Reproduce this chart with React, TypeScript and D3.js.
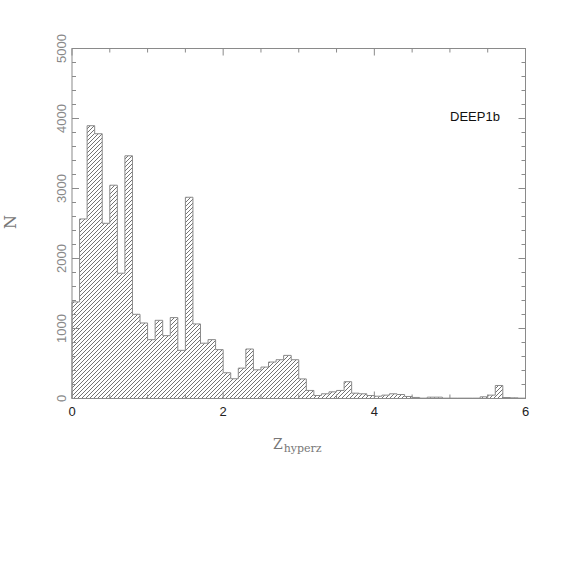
import React from "react";
import * as d3 from "d3";

const binStart: number[] = Array.from({ length: 60 }, (_, i) => i / 10);
const counts: number[] = [
  1380, 2565, 3897, 3782, 2503, 3047, 1790, 3467, 1203, 1079,
  841, 1117, 898, 1156, 688, 2875, 1065, 790, 841, 698,
  368, 282, 434, 707, 410, 449, 521, 554, 616, 554,
  280, 115, 43, 67, 95, 115, 240, 76, 67, 43,
  33, 48, 67, 57, 29, 15, 5, 19, 19, 5,
  5, 5, 5, 5, 24, 48, 186, 14, 10, 5,
];
const xTickLabels: number[] = [0, 2, 4, 6];
const yTickLabels: number[] = [0, 1000, 2000, 3000, 4000, 5000];
const binWidth = 0.1;

export default function App() {
  const W = 574, H = 574;
  const left = 72, right = 525.5, top = 48.5, bottom = 398.5;
  const x = d3.scaleLinear().domain([0, 6]).range([left, right]);
  const y = d3.scaleLinear().domain([0, 5000]).range([bottom, top]);
  const xMinor = d3.range(0, 6.0001, 0.5);
  const yMinor = d3.range(0, 5000.1, 200);
  const axisColor = "#8a8a8a";
  const pts: [number, number][] = [[x(binStart[0]), y(0)]];
  counts.forEach((c, i) => {
    pts.push([x(binStart[i]), y(c)]);
    pts.push([x(binStart[i] + binWidth), y(c)]);
  });
  pts.push([x(binStart[counts.length - 1] + binWidth), y(0)]);
  const stepPath = d3.line()(pts) as string;
  return (
    <div style={{ position: "absolute", left: 0, top: 0 }}>
      <svg width={W} height={H} style={{ display: "block", background: "#fff" }}>
        <defs>
          <pattern id="hatch" patternUnits="userSpaceOnUse" width={4} height={4}>
            <path d="M-1,1 L1,-1 M0,4 L4,0 M3,5 L5,3" stroke="#444" strokeWidth={0.75} />
          </pattern>
        </defs>
        <path d={stepPath + "Z"} fill="url(#hatch)" stroke="none" />
        <path d={stepPath} fill="none" stroke="#8a8a8a" strokeWidth={1} />
        <rect x={left} y={top} width={right - left} height={bottom - top} fill="none" stroke={axisColor} strokeWidth={1} />
        {xMinor.map((v, i) => {
          const major = Math.abs(v % 2) < 1e-6;
          const len = major ? 7 : 4;
          return (
            <g key={"xt" + i} stroke={axisColor} strokeWidth={1}>
              <line x1={x(v)} x2={x(v)} y1={bottom} y2={bottom - len} />
              <line x1={x(v)} x2={x(v)} y1={top} y2={top + len} />
            </g>
          );
        })}
        {yMinor.map((v, i) => {
          const major = Math.abs(v % 1000) < 1e-6;
          const len = major ? 7 : 4;
          return (
            <g key={"yt" + i} stroke={axisColor} strokeWidth={1}>
              <line x1={left} x2={left + len} y1={y(v)} y2={y(v)} />
              <line x1={right} x2={right - len} y1={y(v)} y2={y(v)} />
            </g>
          );
        })}
        {xTickLabels.map((v) => (
          <text key={"xl" + v} x={x(v)} y={416} textAnchor="middle" fontFamily="Liberation Sans, Arial, sans-serif" fontSize={13} fill="#222">
            {v}
          </text>
        ))}
        {yTickLabels.map((v) => (
          <text
            key={"yl" + v}
            transform={`translate(66,${y(v)}) rotate(-90)`}
            textAnchor="middle"
            fontFamily="Liberation Sans, Arial, sans-serif"
            fontSize={13}
            fill="#888"
          >
            {v}
          </text>
        ))}
        <text transform="translate(16,222) rotate(-90)" textAnchor="middle" fontFamily="DejaVu Serif, Liberation Serif, serif" fontSize={16} fill="#777">
          N
        </text>
        <text x={273} y={449} fontFamily="DejaVu Serif, Liberation Serif, serif" fontSize={14} fill="#777">
          Z<tspan fontSize={11} dx={1} dy={3}>hyperz</tspan>
        </text>
        <text x={475} y={121} textAnchor="middle" fontFamily="Liberation Sans, Arial, sans-serif" fontSize={13} fill="#111">
          DEEP1b
        </text>
      </svg>
    </div>
  );
}
